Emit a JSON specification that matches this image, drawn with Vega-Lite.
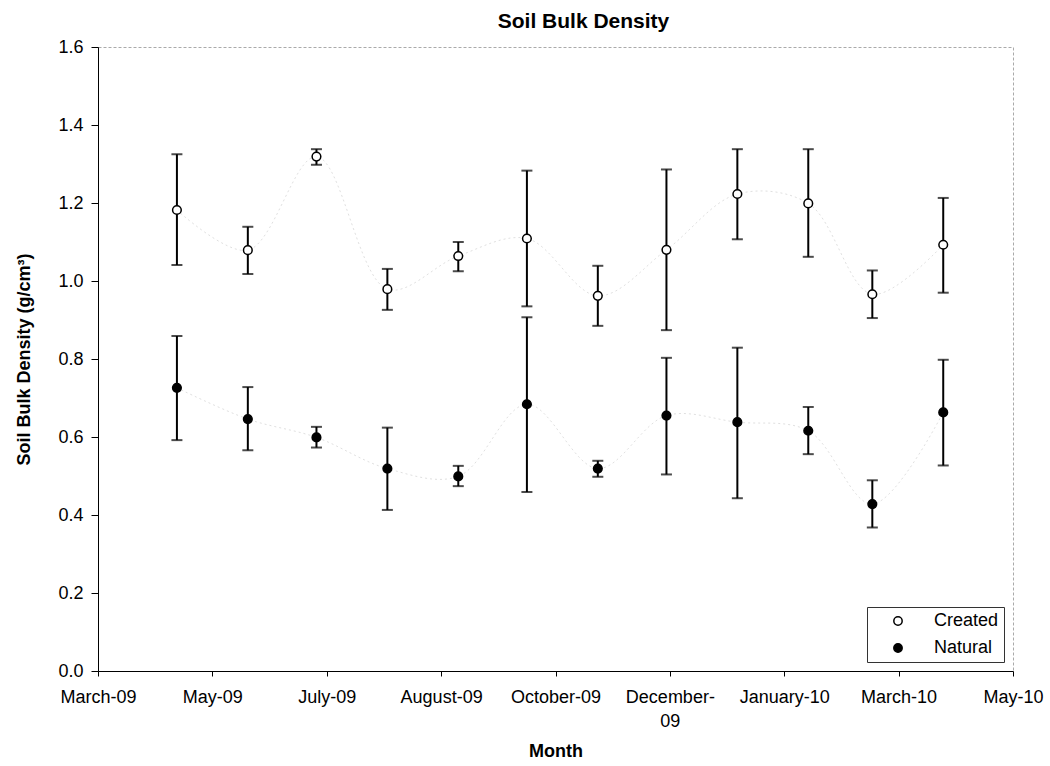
{
  "$schema": "https://vega.github.io/schema/vega-lite/v6.json",
  "width": 915,
  "height": 624,
  "autosize": {"type": "none"},
  "padding": {"left": 98, "top": 47, "right": 37, "bottom": 95},
  "background": "white",
  "title": {
    "text": "Soil Bulk Density",
    "font": "Liberation Sans",
    "fontSize": 21,
    "fontWeight": "bold",
    "color": "black",
    "anchor": "middle",
    "frame": "group",
    "dx": 28,
    "dy": 20,
    "offset": 9,
    "baseline": "alphabetic"
  },
  "data": {
    "values": [
      {"date": "2009-05-01T00:00:00", "series": "Created", "mean": 1.182, "low": 1.041, "high": 1.325},
      {"date": "2009-06-01T00:00:00", "series": "Created", "mean": 1.079, "low": 1.018, "high": 1.139},
      {"date": "2009-07-01T00:00:00", "series": "Created", "mean": 1.319, "low": 1.298, "high": 1.338},
      {"date": "2009-08-01T00:00:00", "series": "Created", "mean": 0.979, "low": 0.926, "high": 1.031},
      {"date": "2009-09-01T00:00:00", "series": "Created", "mean": 1.064, "low": 1.025, "high": 1.100},
      {"date": "2009-10-01T00:00:00", "series": "Created", "mean": 1.109, "low": 0.935, "high": 1.283},
      {"date": "2009-11-01T00:00:00", "series": "Created", "mean": 0.962, "low": 0.885, "high": 1.039},
      {"date": "2009-12-01T00:00:00", "series": "Created", "mean": 1.080, "low": 0.874, "high": 1.286},
      {"date": "2010-01-01T00:00:00", "series": "Created", "mean": 1.223, "low": 1.107, "high": 1.338},
      {"date": "2010-02-01T00:00:00", "series": "Created", "mean": 1.199, "low": 1.062, "high": 1.338},
      {"date": "2010-03-01T00:00:00", "series": "Created", "mean": 0.966, "low": 0.905, "high": 1.027},
      {"date": "2010-04-01T00:00:00", "series": "Created", "mean": 1.093, "low": 0.970, "high": 1.213},
      {"date": "2009-05-01T00:00:00", "series": "Natural", "mean": 0.726, "low": 0.592, "high": 0.859},
      {"date": "2009-06-01T00:00:00", "series": "Natural", "mean": 0.646, "low": 0.566, "high": 0.728},
      {"date": "2009-07-01T00:00:00", "series": "Natural", "mean": 0.599, "low": 0.573, "high": 0.626},
      {"date": "2009-08-01T00:00:00", "series": "Natural", "mean": 0.519, "low": 0.413, "high": 0.624},
      {"date": "2009-09-01T00:00:00", "series": "Natural", "mean": 0.499, "low": 0.474, "high": 0.526},
      {"date": "2009-10-01T00:00:00", "series": "Natural", "mean": 0.684, "low": 0.459, "high": 0.907},
      {"date": "2009-11-01T00:00:00", "series": "Natural", "mean": 0.519, "low": 0.498, "high": 0.539},
      {"date": "2009-12-01T00:00:00", "series": "Natural", "mean": 0.655, "low": 0.504, "high": 0.803},
      {"date": "2010-01-01T00:00:00", "series": "Natural", "mean": 0.638, "low": 0.443, "high": 0.829},
      {"date": "2010-02-01T00:00:00", "series": "Natural", "mean": 0.616, "low": 0.556, "high": 0.677},
      {"date": "2010-03-01T00:00:00", "series": "Natural", "mean": 0.428, "low": 0.368, "high": 0.489},
      {"date": "2010-04-01T00:00:00", "series": "Natural", "mean": 0.663, "low": 0.527, "high": 0.798}
    ]
  },
  "encoding": {
    "x": {
      "field": "date",
      "type": "temporal",
      "title": "Month",
      "scale": {
        "domain": [
          {"year": 2009, "month": 3, "date": 27, "hours": 12},
          {"year": 2010, "month": 5, "date": 1, "hours": 12}
        ]
      },
      "axis": {
        "values": [
          {"year": 2009, "month": 3, "date": 27, "hours": 12},
          {"year": 2009, "month": 5, "date": 16, "hours": 12},
          {"year": 2009, "month": 7, "date": 5, "hours": 12},
          {"year": 2009, "month": 8, "date": 24, "hours": 12},
          {"year": 2009, "month": 10, "date": 13, "hours": 12},
          {"year": 2009, "month": 12, "date": 2, "hours": 12},
          {"year": 2010, "month": 1, "date": 21, "hours": 12},
          {"year": 2010, "month": 3, "date": 12, "hours": 12},
          {"year": 2010, "month": 5, "date": 1, "hours": 12}
        ],
        "labelExpr": "timeFormat(datum.value, '%B') == 'December' ? ['December-', timeFormat(datum.value, '%y')] : timeFormat(datum.value, '%B-%y')",
        "labelOverlap": false,
        "labelFlush": false,
        "labelBound": false,
        "grid": false,
        "tickSize": 5,
        "labelPadding": 12,
        "labelLineHeight": 24,
        "titlePadding": 12
      }
    }
  },
  "layer": [
    {
      "mark": {"type": "line", "interpolate": "catmull-rom", "strokeDash": [2, 3], "strokeWidth": 1, "color": "#e0e0e0"},
      "encoding": {
        "y": {"field": "mean", "type": "quantitative", "title": "Soil Bulk Density (g/cm³)", "scale": {"domain": [0, 1.6], "nice": false}},
        "detail": {"field": "series", "type": "nominal"}
      }
    },
    {
      "mark": {
        "type": "errorbar",
        "color": "black",
        "ticks": {"size": 11, "thickness": 2, "color": "black"},
        "rule": {"strokeWidth": 2, "color": "black"}
      },
      "encoding": {
        "y": {"field": "low", "type": "quantitative", "title": "Soil Bulk Density (g/cm³)"},
        "y2": {"field": "high"}
      }
    },
    {
      "mark": {"type": "point", "filled": true, "size": 75, "stroke": "black", "strokeWidth": 1.5, "opacity": 1},
      "encoding": {
        "y": {
          "field": "mean",
          "type": "quantitative",
          "title": "Soil Bulk Density (g/cm³)",
          "axis": {
            "values": [0, 0.2, 0.4, 0.6, 0.8, 1.0, 1.2, 1.4, 1.6],
            "format": ".1f",
            "grid": false,
            "tickSize": 7,
            "labelPadding": 8,
            "titlePadding": 24,
            "labelFlush": false
          }
        },
        "fill": {
          "field": "series",
          "type": "nominal",
          "scale": {"domain": ["Created", "Natural"], "range": ["white", "black"]},
          "legend": {
            "title": null,
            "orient": "bottom-right",
            "offset": 9,
            "strokeColor": "#333333",
            "fillColor": "white",
            "padding": 5,
            "symbolOffset": 17,
            "labelOffset": 27,
            "rowPadding": 9,
            "symbolType": "circle",
            "symbolSize": 70,
            "symbolStrokeColor": "black",
            "symbolStrokeWidth": 1.5
          }
        }
      }
    }
  ],
  "config": {
    "view": {"stroke": "#aaaaaa", "strokeDash": [3, 2], "strokeWidth": 1},
    "axis": {
      "domainColor": "black",
      "domainWidth": 1,
      "tickColor": "black",
      "tickWidth": 1,
      "labelFont": "Liberation Sans",
      "labelFontSize": 18,
      "labelColor": "black",
      "titleFont": "Liberation Sans",
      "titleFontSize": 18,
      "titleFontWeight": "bold",
      "titleColor": "black"
    },
    "legend": {
      "labelFont": "Liberation Sans",
      "labelFontSize": 18,
      "labelColor": "black"
    }
  }
}
